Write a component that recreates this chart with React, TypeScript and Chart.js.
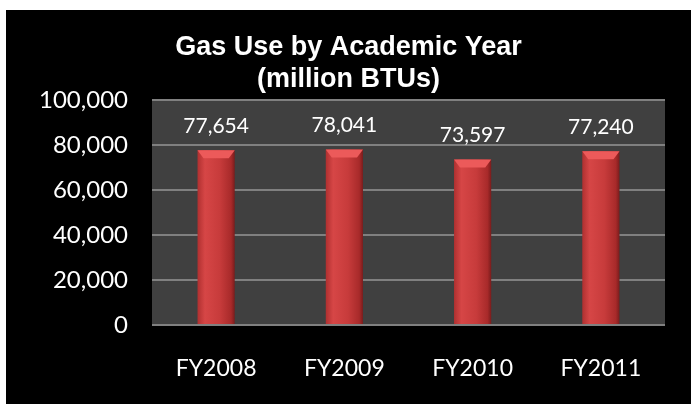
import React, { useEffect, useRef } from 'react';
import { Chart, registerables } from 'chart.js';

Chart.register(...registerables);

const categories = ['FY2008', 'FY2009', 'FY2010', 'FY2011'];
const gasUse = [77654, 78041, 73597, 77240];
const yMin = 0;
const yMax = 100000;
const yStep = 20000;
const titleLines = ['Gas Use by Academic Year', '(million BTUs)'];

const fmt = (v: number) => Number(v).toLocaleString('en-US');

const plotBgPlugin = {
  id: 'plotBg',
  beforeDraw(chart: any) {
    const { ctx, chartArea } = chart;
    if (!chartArea) return;
    ctx.save();
    ctx.fillStyle = '#404040';
    ctx.fillRect(chartArea.left, chartArea.top, chartArea.right - chartArea.left, chartArea.bottom - chartArea.top);
    ctx.restore();
  },
};

const barDecorPlugin = {
  id: 'barDecor',
  afterDatasetsDraw(chart: any) {
    const { ctx } = chart;
    const meta = chart.getDatasetMeta(0);
    ctx.save();
    meta.data.forEach((el: any, i: number) => {
      const half = el.width / 2;
      const bev = 8;
      ctx.beginPath();
      ctx.moveTo(el.x - half, el.y);
      ctx.lineTo(el.x + half, el.y);
      ctx.lineTo(el.x + half - 6, el.y + bev);
      ctx.lineTo(el.x - half + 6, el.y + bev);
      ctx.closePath();
      ctx.fillStyle = '#ec5a5a';
      ctx.fill();
      ctx.fillStyle = '#ffffff';
      ctx.font = '21px Lato, "Open Sans", sans-serif';
      ctx.textAlign = 'center';
      ctx.textBaseline = 'middle';
      ctx.fillText(fmt(gasUse[i]), el.x, el.y - 24);
    });
    ctx.restore();
  },
};

export default function App() {
  const ref = useRef<HTMLCanvasElement | null>(null);

  useEffect(() => {
    if (!ref.current) return;
    const chart = new Chart(ref.current, {
      type: 'bar',
      data: {
        labels: categories,
        datasets: [
          {
            data: gasUse,
            backgroundColor: (c: any) => {
              const ch = c.chart;
              const xs = ch.scales && ch.scales.x;
              if (!xs || !ch.chartArea) return '#c83c3c';
              const cx = xs.getPixelForValue(c.dataIndex);
              const w = ((ch.chartArea.right - ch.chartArea.left) / categories.length) * 0.29;
              const g = ch.ctx.createLinearGradient(cx - w / 2, 0, cx + w / 2, 0);
              g.addColorStop(0, '#b03030');
              g.addColorStop(0.2, '#d64646');
              g.addColorStop(0.6, '#c73b3b');
              g.addColorStop(0.9, '#a82a2a');
              g.addColorStop(1, '#7a1c1c');
              return g;
            },
            borderWidth: 0,
            barPercentage: 0.29,
            categoryPercentage: 1,
          },
        ],
      },
      options: {
        responsive: false,
        animation: false,
        layout: { padding: 0 },
        plugins: {
          legend: { display: false },
          tooltip: { enabled: false },
          title: {
            display: true,
            text: titleLines,
            color: '#ffffff',
            font: { family: '"Liberation Sans", Arial, sans-serif', weight: 'bold', size: 27, lineHeight: 1.185 },
            padding: { top: 22, bottom: 4 },
          },
        },
        scales: {
          x: {
            grid: { display: false, drawTicks: false },
            border: { display: false },
            afterFit: (s: any) => {
              s.height = 79;
            },
            ticks: {
              color: '#ffffff',
              font: { family: 'Lato, "Open Sans", sans-serif', size: 23 },
              padding: 30,
            },
          },
          y: {
            min: yMin,
            max: yMax,
            afterFit: (s: any) => {
              s.width = 146;
            },
            grid: { color: '#808080', lineWidth: 2, drawTicks: false },
            border: { display: false },
            ticks: {
              stepSize: yStep,
              color: '#ffffff',
              font: { family: 'Lato, "Open Sans", sans-serif', size: 24 },
              padding: 24,
              callback: (v: any) => fmt(v),
            },
          },
          yRight: {
            position: 'right',
            display: true,
            min: yMin,
            max: yMax,
            afterFit: (s: any) => {
              s.width = 26;
            },
            grid: { display: false, drawOnChartArea: false, drawTicks: false },
            border: { display: false },
            ticks: { display: false },
          },
        },
      },
      plugins: [plotBgPlugin, barDecorPlugin],
    });
    return () => chart.destroy();
  }, []);

  return (
    <div style={{ position: 'absolute', left: 6, top: 10, width: 685, height: 394, background: '#000' }}>
      <canvas ref={ref} width={685} height={394} style={{ display: 'block' }} />
    </div>
  );
}
